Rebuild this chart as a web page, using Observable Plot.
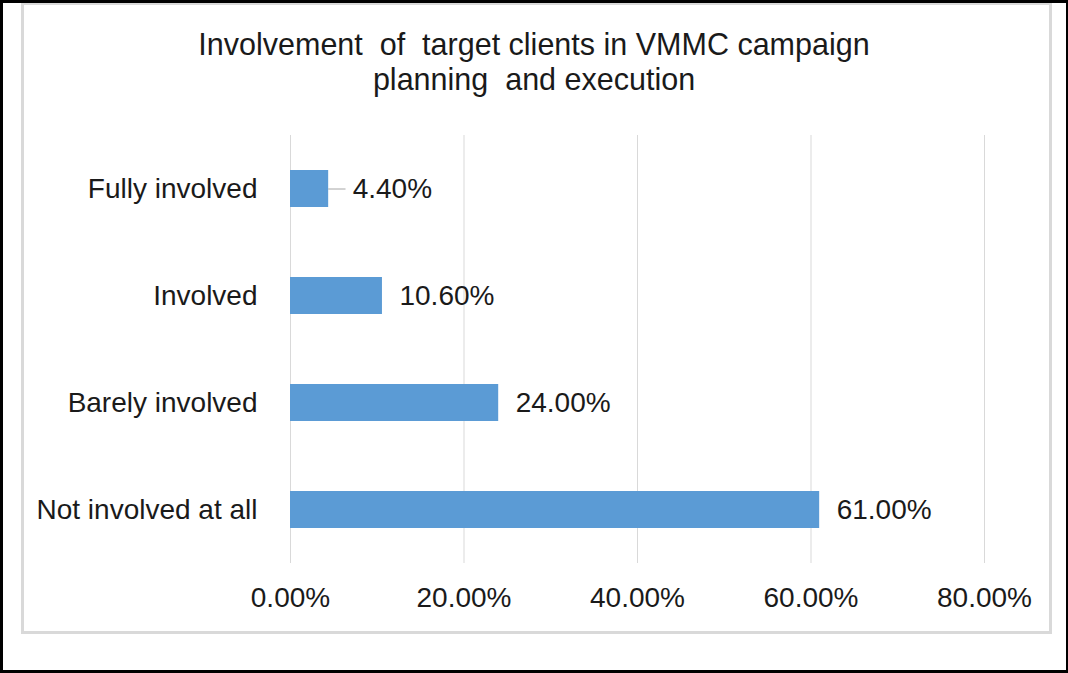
<!DOCTYPE html>
<html>
<head>
<meta charset="utf-8">
<script src="https://cdn.jsdelivr.net/npm/d3@7"></script>
<script src="https://cdn.jsdelivr.net/npm/@observablehq/plot@0.6"></script>
<style>
  html, body { margin: 0; padding: 0; background: #fff; }
  #frame { position: relative; width: 1068px; height: 673px; overflow: hidden; font-family: "Liberation Sans", Arial, sans-serif; }
  #outer { position: absolute; left: 0px; top: 0px; width: 1063px; height: 667px; border: 3px solid #000; }
  #inner { position: absolute; left: 21px; top: 3px; width: 1025px; height: 626px; border: 3px solid #d9d9d9; border-top-width: 2px; }
  #title { position: absolute; left: 0; width: 1068px; top: 27px; text-align: center; font-size: 30.5px; line-height: 35px; color: #1a1a1a; white-space: pre; }
  #chart { position: absolute; left: 0; top: 0; }
</style>
</head>
<body>
<div id="frame">
  <div id="outer"></div>
  <div id="inner"></div>
  <div id="chart"></div>
  <div id="title">Involvement  of  target clients in VMMC campaign
planning  and execution</div>
</div>
<script>
const categories = ["Fully involved", "Involved", "Barely involved", "Not involved at all"];
const values = [0.044, 0.106, 0.24, 0.61];
const xTicks = [0, 0.2, 0.4, 0.6, 0.8];
const leaderCategories = ["Fully involved"];

const data = categories.map((c, i) => ({category: c, value: values[i], leader: leaderCategories.includes(c)}));
const fmt = d3.format(".2%");

const chart = Plot.plot({
  width: 1068,
  height: 673,
  marginLeft: 290,
  marginRight: 84,
  marginTop: 135,
  marginBottom: 110,
  style: {fontFamily: "'Liberation Sans', Arial, sans-serif", fontSize: "28px", color: "#1a1a1a", background: "transparent"},
  x: {domain: [0, 0.8], ticks: xTicks, tickFormat: fmt, tickSize: 0, tickPadding: 24, label: null},
  y: {domain: categories, paddingInner: 0.655, paddingOuter: 0.3275, tickSize: 0, tickPadding: 33, label: null},
  marks: [
    Plot.gridX(xTicks, {stroke: "#d9d9d9", strokeOpacity: 1, strokeWidth: 1}),
    Plot.barX(data, {x: "value", y: "category", fill: "#5b9bd5"}),
    Plot.ruleY(data.filter(d => d.leader), {y: "category", x1: "value", x2: d => d.value + 0.02, stroke: "#a6a6a6", strokeWidth: 1}),
    Plot.text(data, {x: "value", y: "category", text: d => fmt(d.value), textAnchor: "start", dx: 17, filter: d => !d.leader, fill: "#1a1a1a"}),
    Plot.text(data, {x: "value", y: "category", text: d => fmt(d.value), textAnchor: "start", dx: 24, filter: d => d.leader, fill: "#1a1a1a"})
  ]
});
document.getElementById("chart").appendChild(chart);
</script>
</body>
</html>
